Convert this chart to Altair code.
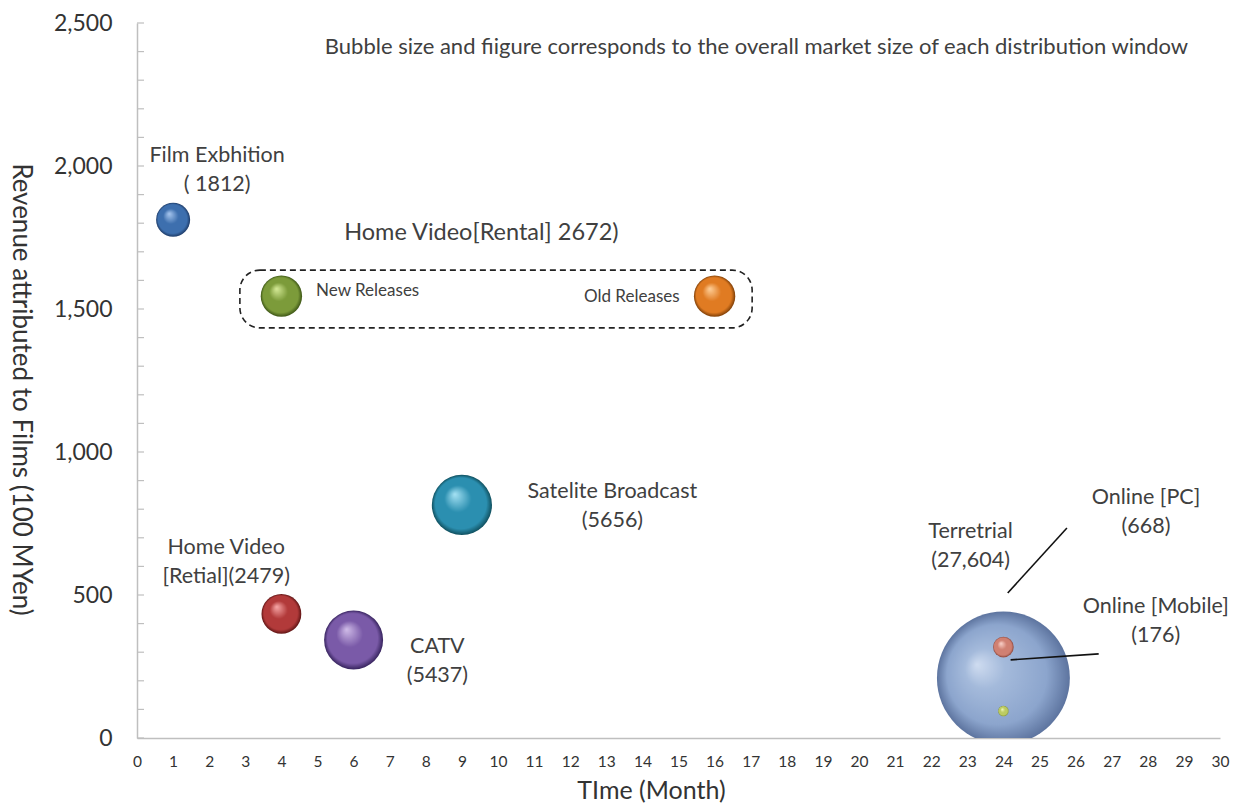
import altair as alt
import pandas as pd

# ---- data ----
names = ["Terrestrial", "Film Exhibition", "New Releases", "Old Releases",
         "Satellite Broadcast", "Home Video Retail", "CATV", "Online PC", "Online Mobile"]
months = [24, 1, 4, 16, 9, 4, 6, 24, 24]
revenue = [210, 1812, 1545, 1545, 815, 434, 343, 318, 94]
market = [27604, 1812, 2672, 2672, 5656, 2479, 5437, 668, 176]

# highlight, base, shadow for each sphere
shades = {
    "Terrestrial": ("#cfdcf0", "#8ca5cd", "#5d749f"),
    "Film Exhibition": ("#a9c8f0", "#3d6fae", "#1d3a66"),
    "New Releases": ("#d6eb98", "#7c9b3a", "#3c5515"),
    "Old Releases": ("#ffd09a", "#e07b22", "#7e3e06"),
    "Satellite Broadcast": ("#a6e2f4", "#2b8fb0", "#10505f"),
    "Home Video Retail": ("#f8a8a8", "#b23a3a", "#5e1414"),
    "CATV": ("#d0bce8", "#7a5aa8", "#37245e"),
    "Online PC": ("#fbd4cc", "#d08072", "#864238"),
    "Online Mobile": ("#f4fbc0", "#bccb62", "#76862c"),
}

label_text = ["Film Exbhition\n( 1812)", "Home Video\n[Retial](2479)",
              "Satelite Broadcast\n(5656)", "CATV\n(5437)", "Terretrial\n(27,604)",
              "Online [PC]\n(668)", "Online [Mobile]\n(176)"]
label_x = [2.22, 2.47, 13.17, 8.32, 23.09, 27.95, 28.22]
label_y = [1983, 615, 811, 266, 671, 787, 406]

note_text = ["Bubble size and fiigure  corresponds to the overall market size of each distribution window"]
note_x = [17.16]
note_y = [2416]

rental_text = ["Home Video[Rental] 2672)"]
rental_x = [9.54]
rental_y = [1766]

release_left_text = ["New Releases"]
release_left_x = [4.96]
release_left_y = [1563]
release_right_text = ["Old Releases"]
release_right_x = [15.03]
release_right_y = [1542]

box_x = [2.85]
box_x2 = [17.04]
box_y = [1434]
box_y2 = [1636]

leader_x = [24.12, 24.2]
leader_y = [507, 273]
leader_x2 = [25.76, 26.64]
leader_y2 = [734, 294]

x_ticks = list(range(0, 31))
y_ticks = list(range(0, 2501, 100))
y_labels = list(range(0, 2501, 500))

FONT = "Lato"
TXT = "#404040"

bubbles = pd.DataFrame({"name": names, "month": months, "revenue": revenue, "market": market})

xs = alt.Scale(domain=[0, 30], nice=False, zero=False)
ys = alt.Scale(domain=[0, 2500], nice=False)
ss = alt.Scale(domain=[0, 27604], range=[0, 17671], zero=True)

x_axis = alt.Axis(values=x_ticks, title="TIme (Month)", grid=False, ticks=False, tickSize=0,
                  labelFontSize=15.5, labelColor="#333333", labelFont=FONT, labelPadding=16,
                  labelOverlap=False, labelBound=False, labelFlush=False,
                  domainColor="#bfbfbf", domainWidth=1.5,
                  titleFont=FONT, titleFontSize=25, titleFontWeight="normal", titleColor="#333333",
                  titleX=514, titleY=52, titleBaseline="middle", titleAnchor="middle")
y_axis = alt.Axis(values=y_labels, title="Revenue attributed to Films  (100 MYen)", grid=False,
                  ticks=False, tickSize=0, labelExpr="format(datum.value, ',')",
                  labelFontSize=23, labelColor="#333333", labelFont=FONT, labelPadding=25,
                  labelOverlap=False,
                  domainColor="#bfbfbf", domainWidth=1.5,
                  titleFont=FONT, titleFontSize=26, titleFontWeight="normal", titleColor="#333333",
                  titleAngle=90, titleX=-117, titleY=366, titleBaseline="middle",
                  titleAnchor="middle")


def X(field):
    return alt.X(field, scale=xs, axis=x_axis)


def Y(field):
    return alt.Y(field, scale=ys, axis=y_axis)


base = alt.Chart(bubbles)

layers = []

ticks = alt.Chart(pd.DataFrame({"t": y_ticks})).mark_rule(color="#bfbfbf", strokeWidth=1.2).encode(
    y=Y("t:Q"),
    x=alt.value(0), x2=alt.value(7),
)
layers.append(ticks)

for n in names:
    hi, mid, lo = shades[n]
    if n == "Terrestrial":
        stops = [alt.GradientStop(offset=0, color=hi),
                 alt.GradientStop(offset=0.3, color="#a4badb"),
                 alt.GradientStop(offset=0.75, color=mid),
                 alt.GradientStop(offset=1, color=lo)]
        g = dict(x1=0.3, y1=0.4, r1=0.0, x2=0.5, y2=0.5, r2=0.5)
    else:
        stops = [alt.GradientStop(offset=0, color=hi),
                 alt.GradientStop(offset=0.45, color=mid),
                 alt.GradientStop(offset=0.85, color=mid),
                 alt.GradientStop(offset=1, color=lo)]
        g = dict(x1=0.38, y1=0.32, r1=0.0, x2=0.5, y2=0.5, r2=0.5)
    grad = alt.Gradient(gradient="radial", stops=stops, **g)
    layers.append(
        base.transform_filter(alt.datum.name == n)
        .mark_circle(fill=grad, opacity=1, fillOpacity=1, clip=True)
        .encode(x=X("month:Q"), y=Y("revenue:Q"),
                size=alt.Size("market:Q", scale=ss, legend=None))
    )

box = alt.Chart(pd.DataFrame({"x": box_x, "x2": box_x2, "y": box_y, "y2": box_y2})).mark_rect(
    fillOpacity=0, stroke="#222222", strokeWidth=1.6, strokeDash=[6, 4], cornerRadius=20
).encode(x=X("x:Q"), x2="x2:Q", y=Y("y:Q"), y2="y2:Q")
layers.append(box)

leaders = alt.Chart(pd.DataFrame({"x": leader_x, "y": leader_y, "x2": leader_x2, "y2": leader_y2})).mark_rule(
    color="#111111", strokeWidth=1.6
).encode(x=X("x:Q"), x2="x2:Q", y=Y("y:Q"), y2="y2:Q")
layers.append(leaders)


def text_layer(texts, xv, yv, size, align="center", lh=None):
    lh = lh or size * 1.3
    nlines = max(t.count("\n") for t in texts) + 1
    return alt.Chart(pd.DataFrame({"t": texts, "x": xv, "y": yv})).mark_text(
        font=FONT, fontSize=size, color=TXT, align=align, baseline="middle", lineBreak="\n",
        lineHeight=lh, dy=-(nlines - 1) * lh / 2
    ).encode(x=X("x:Q"), y=Y("y:Q"), text="t:N")


layers.append(text_layer(label_text, label_x, label_y, 21.5, lh=29))
layers.append(text_layer(note_text, note_x, note_y, 22))
layers.append(text_layer(rental_text, rental_x, rental_y, 23.5))
layers.append(text_layer(release_left_text, release_left_x, release_left_y, 17, "left"))
layers.append(text_layer(release_right_text, release_right_x, release_right_y, 17, "right"))

chart = alt.layer(*layers).properties(
    width=1083, height=715,
    padding={"left": 137, "top": 23, "right": 22, "bottom": 68},
    autosize=alt.AutoSizeParams(type="none"),
    background="white",
).configure_view(stroke=None)

chart.save("out.html", embed_options={"renderer": "svg", "actions": False})
